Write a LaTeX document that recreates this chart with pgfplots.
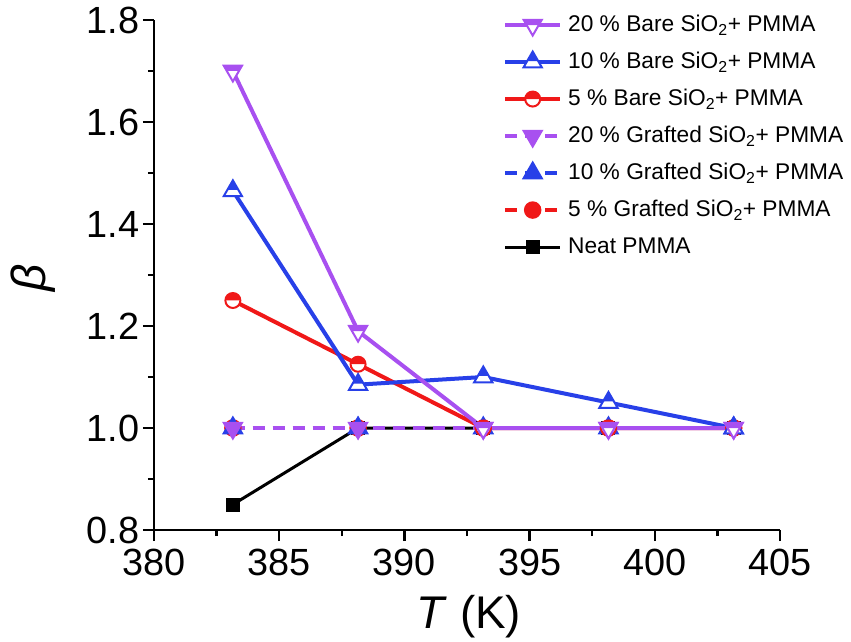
\documentclass[border=0pt]{standalone}
\usepackage{fontspec}
\setmainfont{Liberation Sans}
\usepackage{pgfplots}
\pgfplotsset{compat=1.18}
\definecolor{cpur}{RGB}{168,80,240}
\definecolor{cblu}{RGB}{40,64,232}
\definecolor{cred}{RGB}{240,24,24}

\pgfdeclareplotmark{halfcircle}{%
  \begin{pgfscope}\pgfsetfillcolor{white}%
  \pgfpathcircle{\pgfpointorigin}{\pgfplotmarksize}\pgfusepathqfill\end{pgfscope}%
  \pgfpathmoveto{\pgfqpoint{\pgfplotmarksize}{0pt}}%
  \pgfpatharc{0}{180}{\pgfplotmarksize}%
  \pgfpathclose\pgfusepathqfill
  \pgfpathcircle{\pgfpointorigin}{\pgfplotmarksize}\pgfusepathqstroke
}
\pgfdeclareplotmark{halftriup}{%
  \begin{pgfscope}\pgfsetfillcolor{white}%
  \pgfpathmoveto{\pgfpointpolar{90}{\pgfplotmarksize}}%
  \pgfpathlineto{\pgfpointpolar{-30}{\pgfplotmarksize}}%
  \pgfpathlineto{\pgfpointpolar{210}{\pgfplotmarksize}}%
  \pgfpathclose\pgfusepathqfill\end{pgfscope}%
  \pgfpathmoveto{\pgfpoint{0pt}{\pgfplotmarksize}}%
  \pgfpathlineto{\pgfpoint{0.52\pgfplotmarksize}{0.1\pgfplotmarksize}}%
  \pgfpathlineto{\pgfpoint{-0.52\pgfplotmarksize}{0.1\pgfplotmarksize}}%
  \pgfpathclose\pgfusepathqfill
  \pgfpathmoveto{\pgfpointpolar{90}{\pgfplotmarksize}}%
  \pgfpathlineto{\pgfpointpolar{-30}{\pgfplotmarksize}}%
  \pgfpathlineto{\pgfpointpolar{210}{\pgfplotmarksize}}%
  \pgfpathclose\pgfusepathqstroke
}
\pgfdeclareplotmark{halftridown}{%
  \begin{pgfscope}\pgfsetfillcolor{white}%
  \pgfpathmoveto{\pgfpointpolar{-90}{\pgfplotmarksize}}%
  \pgfpathlineto{\pgfpointpolar{30}{\pgfplotmarksize}}%
  \pgfpathlineto{\pgfpointpolar{150}{\pgfplotmarksize}}%
  \pgfpathclose\pgfusepathqfill\end{pgfscope}%
  \pgfpathmoveto{\pgfpoint{-0.866\pgfplotmarksize}{0.5\pgfplotmarksize}}%
  \pgfpathlineto{\pgfpoint{0.866\pgfplotmarksize}{0.5\pgfplotmarksize}}%
  \pgfpathlineto{\pgfpoint{0.577\pgfplotmarksize}{0pt}}%
  \pgfpathlineto{\pgfpoint{-0.577\pgfplotmarksize}{0pt}}%
  \pgfpathclose\pgfusepathqfill
  \pgfpathmoveto{\pgfpointpolar{-90}{\pgfplotmarksize}}%
  \pgfpathlineto{\pgfpointpolar{30}{\pgfplotmarksize}}%
  \pgfpathlineto{\pgfpointpolar{150}{\pgfplotmarksize}}%
  \pgfpathclose\pgfusepathqstroke
}

\begin{document}
\begin{tikzpicture}
\begin{axis}[name=ax,
  scale only axis, width=626bp, height=510bp,
  xmin=380, xmax=405, ymin=0.8, ymax=1.8,
  axis x line*=bottom, axis y line*=left,
  xtick={380,385,390,395,400,405},
  ytick={0.8,1.0,1.2,1.4,1.6,1.8},
  minor x tick num=1, minor y tick num=1,
  tick align=outside, major tick length=11bp, minor tick length=6bp,
  axis line style={line width=2.5bp, black},
  every tick/.style={line width=2.5bp, black},
  /pgf/number format/assume math mode=true,
  yticklabel style={/pgf/number format/.cd, fixed, fixed zerofill, precision=1},
  xticklabel style={yshift=-5bp},
  tick label style={font=\fontsize{38}{40}\selectfont},
  xlabel={\textit{T} (K)},
  ylabel={\textit{β}},
  xlabel style={at={(axis description cs:0.503,0)}, anchor=center, yshift=-87bp, font=\fontsize{46}{50}\selectfont},
  ylabel style={at={(axis description cs:-0.193,0.495)}, anchor=center, font=\fontsize{48}{50}\selectfont},
  clip=false,
  reverse legend,
  legend cell align=left,
  legend style={at={(rel axis cs:0.5575,1.014)}, anchor=north west, draw=none, fill=none,
    font=\fontsize{22.8}{26}\selectfont, inner sep=0pt, row sep=13bp, column sep=6bp,
    nodes={inner sep=0pt, text height=18bp, text depth=6bp}},
  legend image code/.code={\draw[mark repeat=2,mark phase=2,#1] plot coordinates {(0bp,0bp) (27.5bp,0bp) (55bp,0bp)};},
]
% Neat PMMA
\addplot[black, line width=3bp, mark=square*, mark size=6.5bp, mark options={solid, line width=1bp, fill=black}]
  coordinates {(383.15,0.85) (388.15,1.0) (393.15,1.0) (398.15,1.0) (403.15,1.0)};
% grafted 5
\addplot[cred, line width=4bp, dash pattern=on 12bp off 8bp, mark=*, mark size=8bp, mark options={solid, line width=1.5bp, fill=cred}]
  coordinates {(383.15,1.0) (388.15,1.0) (393.15,1.0) (398.15,1.0) (403.15,1.0)};
% grafted 10
\addplot[cblu, line width=4bp, dash pattern=on 12bp off 8bp, mark=triangle*, mark size=11bp, mark options={solid, line width=1.5bp, fill=cblu}]
  coordinates {(383.15,1.0) (388.15,1.0) (393.15,1.0) (398.15,1.0) (403.15,1.0)};
% grafted 20
\addplot[cpur, line width=4bp, dash pattern=on 12bp off 8bp, mark=triangle*, mark size=11bp, mark options={solid, rotate=180, line width=1.5bp, fill=cpur}]
  coordinates {(383.15,1.0) (388.15,1.0) (393.15,1.0) (398.15,1.0) (403.15,1.0)};
% bare 5
\addplot[cred, line width=4bp, mark=halfcircle, mark size=7.5bp, mark options={solid, line width=2bp, fill=cred}]
  coordinates {(383.15,1.25) (388.15,1.125) (393.15,1.0) (398.15,1.0) (403.15,1.0)};
% bare 10
\addplot[cblu, line width=4bp, mark=halftriup, mark size=10.5bp, mark options={solid, line width=2bp, fill=cblu}]
  coordinates {(383.15,1.465) (388.15,1.085) (393.15,1.10) (398.15,1.05) (403.15,1.0)};
% bare 20
\addplot[cpur, line width=4bp, mark=halftridown, mark size=10.5bp, mark options={solid, line width=2bp, fill=cpur}]
  coordinates {(383.15,1.70) (388.15,1.19) (393.15,1.0) (398.15,1.0) (403.15,1.0)};
\legend{Neat PMMA,
  5 \% Grafted SiO\textsubscript{2}+ PMMA,
  10 \% Grafted SiO\textsubscript{2}+ PMMA,
  20 \% Grafted SiO\textsubscript{2}+ PMMA,
  5 \% Bare SiO\textsubscript{2}+ PMMA,
  10 \% Bare SiO\textsubscript{2}+ PMMA,
  20 \% Bare SiO\textsubscript{2}+ PMMA}
\end{axis}
\pgfresetboundingbox
\path ([xshift=-154bp,yshift=-112bp]ax.south west) rectangle ([xshift=71bp,yshift=20bp]ax.north east);
\end{tikzpicture}
\end{document}
